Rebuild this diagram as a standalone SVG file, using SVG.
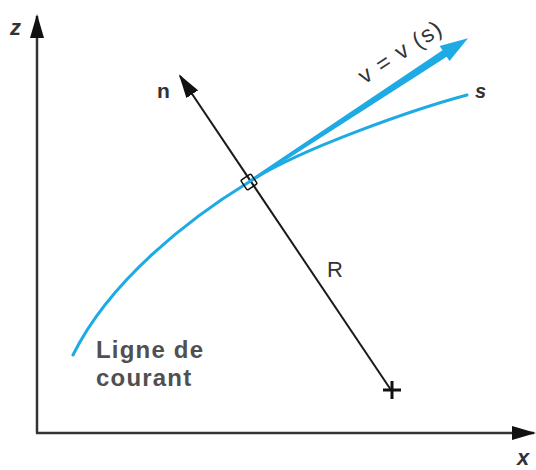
<svg xmlns="http://www.w3.org/2000/svg" width="536" height="470" viewBox="0 0 536 470">
<style>
.axis{stroke:#333;stroke-width:2.5;fill:none}
.blk{stroke:#1a1a1a;stroke-width:2;fill:none}
.blue{stroke:#1eaae2;stroke-width:3;fill:none;stroke-linecap:round}
.lbl{font-family:"Liberation Sans",Arial,sans-serif;fill:#333}
.it{font-style:italic;font-weight:bold}
.cap{font-size:24px;font-weight:bold;fill:#505050;letter-spacing:1.2px}
</style>
<defs>
<marker id="ah" viewBox="0 0 24 14" refX="22" refY="7" markerWidth="24" markerHeight="14" markerUnits="userSpaceOnUse" orient="auto">
<path d="M0,0 L24,7 L0,14 Z" fill="#111"/>
</marker>
</defs>
<g id="axes">
<line class="axis" x1="37" y1="433" x2="37" y2="16" marker-end="url(#ah)"/>
<line class="axis" x1="36" y1="433" x2="534" y2="433" marker-end="url(#ah)"/>
<text class="lbl it" x="10" y="35" font-size="22">z</text>
<text class="lbl it" x="517" y="465" font-size="22">x</text>
</g>
<g id="streamline">
<path class="blue" d="M73,355 C110,280 190,218 249,182 C299,149 415,109 467,95"/>
<text class="lbl it" x="475" y="98" font-size="20">s</text>
<text class="lbl cap" x="96" y="358">Ligne de</text>
<text class="lbl cap" x="96" y="386">courant</text>
</g>
<g id="normal">
<line class="blk" x1="391" y1="390" x2="180" y2="76" marker-end="url(#ah)"/>
<path d="M383,390 H401 M392,381 V399" stroke="#111" stroke-width="3" fill="none"/>
<text class="lbl" x="157" y="98" font-size="21" font-weight="bold">n</text>
<text class="lbl" x="327" y="277" font-size="22">R</text>
</g>
<g id="velocity" transform="translate(249,182) rotate(-33.3)">
<polygon points="0,-1.5 234,-3.8 234,-9 262,0 234,9 234,3.8 0,1.5" fill="#1eaae2"/>
<text class="lbl" x="150" y="-18" font-size="23" letter-spacing="1.5">v = v (s)</text>
</g>
<g id="point">
<rect x="243" y="176" width="12" height="12" rx="1.5" transform="rotate(-34 249 182)" fill="none" stroke="#111" stroke-width="1.5"/>
</g>
</svg>
